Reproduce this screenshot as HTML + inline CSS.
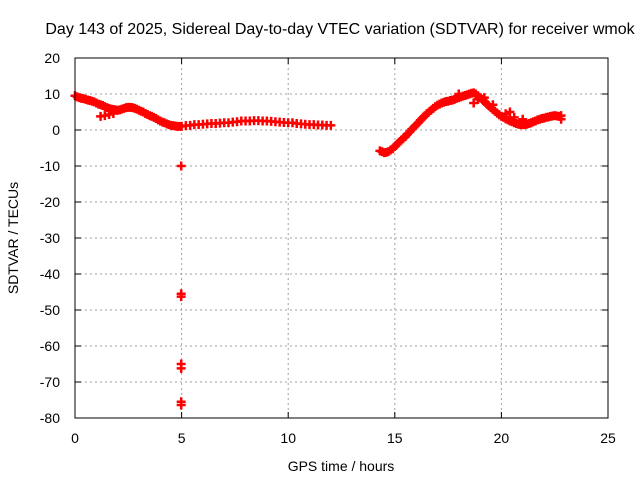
<!DOCTYPE html>
<html><head><meta charset="utf-8"><style>
body{margin:0;background:#fff}
svg{display:block;font-family:"Liberation Sans",sans-serif;font-size:14px}
</style></head><body>
<svg id="chart" width="640" height="480">
<text x="340" y="34" text-anchor="middle" style="font-size:16px">Day 143 of 2025, Sidereal Day-to-day VTEC variation (SDTVAR) for receiver wmok</text>
<text x="341" y="471" text-anchor="middle">GPS time / hours</text>
<text transform="translate(18,238) rotate(-90)" text-anchor="middle">SDTVAR / TECUs</text>
<g id="grid"></g><g id="ticks"></g><g id="marks"></g>
<rect x="75" y="58" width="533" height="360" fill="none" stroke="#000"/>
</svg>
<script>
const xTicks=[0,5,10,15,20,25];
const yTicks=[20,10,0,-10,-20,-30,-40,-50,-60,-70,-80];
const seriesTimes=[0,0.1,0.2,0.3,0.4,0.5,0.6,0.7,0.8,0.9,1,1.1,1.2,1.3,1.4,1.5,1.6,1.7,1.8,1.9,2,2.1,2.2,2.3,2.4,2.5,2.6,2.7,2.8,2.9,3,3.1,3.2,3.3,3.4,3.5,3.6,3.7,3.8,3.9,4,4.1,4.2,4.3,4.4,4.5,4.6,4.7,4.8,4.9,5,5.2,5.4,5.6,5.8,6,6.2,6.4,6.6,6.8,7,7.2,7.4,7.6,7.8,8,8.2,8.4,8.6,8.8,9,9.2,9.4,9.6,9.8,10,10.2,10.4,10.6,10.8,11,11.2,11.4,11.6,11.8,12,
1.2,1.4,1.6,1.8,4.98,4.98,4.98,4.98,4.98,4.98,4.98,
14.3,14.4,14.5,14.6,14.7,14.8,14.9,15,15.1,15.2,15.3,15.4,15.5,15.6,15.7,15.8,15.9,16,16.1,16.2,16.3,16.4,16.5,16.6,16.7,16.8,16.9,17,17.1,17.2,17.3,17.4,17.5,17.6,17.7,17.8,17.9,18,18.1,18.2,18.3,18.4,18.5,18.6,18.7,18.8,18.9,19,19.1,19.2,19.3,19.4,19.5,19.6,19.7,19.8,19.9,20,20.1,20.2,20.3,20.4,20.5,20.6,20.7,20.8,20.9,21,21.1,21.2,21.3,21.4,21.5,21.6,21.7,21.8,21.9,22,22.1,22.2,22.3,22.4,22.5,22.6,22.7,22.8,
18.7,18.9,19.2,19.6,20.2,20.4,20.6,21,21.4,22.8,18];
const seriesValues=[9.5,9.2,9,8.8,8.7,8.5,8.3,8.2,8,7.8,7.5,7.2,7,6.8,6.5,6.2,6,5.8,5.7,5.6,5.5,5.6,5.8,6,6.2,6.3,6.3,6.2,6,5.8,5.5,5.2,5,4.6,4.3,4,3.8,3.5,3.2,2.8,2.5,2.2,2,1.7,1.5,1.3,1.2,1.1,1,1,1,1.2,1.3,1.5,1.5,1.6,1.7,1.8,1.8,1.9,2,2,2.2,2.3,2.5,2.5,2.5,2.6,2.6,2.5,2.5,2.4,2.3,2.2,2.1,2,2,1.8,1.7,1.6,1.5,1.5,1.4,1.4,1.3,1.3,
3.8,4,4.3,4.6,-10,-45.5,-46.3,-65,-66.2,-75.5,-76.4,
-5.8,-6,-6.3,-6.2,-6,-5.6,-5.2,-4.6,-4,-3.4,-2.8,-2.3,-1.8,-1.1,-0.5,0.2,0.8,1.4,2,2.7,3.3,3.9,4.5,5,5.5,6,6.5,6.9,7.2,7.5,7.7,7.9,8,8.2,8.3,8.5,8.8,9,9.2,9.4,9.6,9.8,10,10.2,10.3,10,9.5,9,8.5,7.9,7.3,6.8,6.2,5.7,5.2,4.7,4.2,3.8,3.5,3.1,2.8,2.5,2.3,2,1.8,1.6,1.5,1.5,1.5,1.6,1.8,2,2.3,2.5,2.8,3,3.2,3.3,3.5,3.6,3.8,3.9,4,3.9,3.8,3,
7.5,8.5,9,7,4.5,5,3.5,3,2,4,10];
const NS='http://www.w3.org/2000/svg';
const X=v=>75+(v-0)/25*533, Y=v=>58+(20-v)/100*360;
const grid=document.getElementById('grid'),ticks=document.getElementById('ticks'),marks=document.getElementById('marks');
function mk(tag,attrs,parent){const e=document.createElementNS(NS,tag);for(const k in attrs)e.setAttribute(k,attrs[k]);parent.appendChild(e);return e;}
xTicks.forEach(t=>{
 const l=mk('line',{x1:X(t),x2:X(t),y1:58,y2:418,stroke:'#a0a0a0','stroke-dasharray':'2,3'},grid);
 
 
 const tx=mk('text',{x:X(t),y:443,'text-anchor':'middle'},ticks);tx.textContent=t;
 
 
 mk('line',{x1:X(t),x2:X(t),y1:418,y2:412,stroke:'#000'},ticks);
 mk('line',{x1:X(t),x2:X(t),y1:58,y2:64,stroke:'#000'},ticks);
});
yTicks.forEach(t=>{
 const l=mk('line',{x1:75,x2:608,y1:Y(t),y2:Y(t),stroke:'#a0a0a0','stroke-dasharray':'2,3'},grid);
 
 
 const tx=mk('text',{x:60,y:Y(t)+5,'text-anchor':'end'},ticks);tx.textContent=t;
 
 
 mk('line',{x1:75,x2:81,y1:Y(t),y2:Y(t),stroke:'#000'},ticks);
 mk('line',{x1:602,x2:608,y1:Y(t),y2:Y(t),stroke:'#000'},ticks);
});
seriesTimes.forEach((t,i)=>{
 const x=X(t),y=Y(seriesValues[i]);
 const p=mk('path',{d:`M${x-4.5},${y}H${x+4.5}M${x},${y-4.5}V${y+4.5}`,stroke:'#ff0000','stroke-width':2.5,fill:'none'},marks);
 
 
});
</script>
</body></html>
